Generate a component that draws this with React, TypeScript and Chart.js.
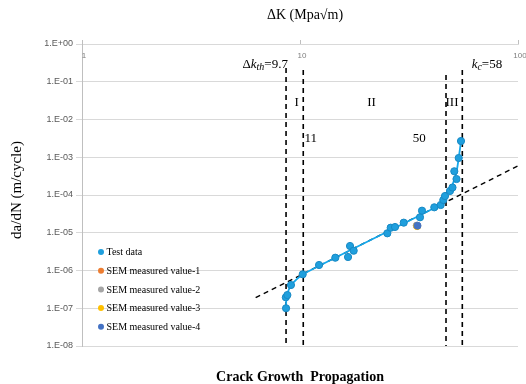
import React, { useEffect, useRef } from 'react';
import { Chart, registerables } from 'chart.js';
Chart.register(...registerables);

// Test data (ΔK in MPa√m, da/dN in m/cycle)
const testDK = [8.63, 8.61, 8.75, 9.09, 10.29, 12.23, 14.52, 16.61, 16.96, 17.63, 25.15, 26.06, 27.28, 29.91, 35.52, 36.28, 41.31, 44.2, 45.43, 46.26, 48.76, 50.06, 52.23, 51.03, 53.46, 54.77];
const testRate = [1.0e-7, 1.95e-7, 2.24e-7, 4.13e-7, 7.93e-7, 1.4e-6, 2.18e-6, 2.28e-6, 4.46e-6, 3.35e-6, 9.67e-6, 1.36e-5, 1.42e-5, 1.85e-5, 2.57e-5, 3.84e-5, 4.72e-5, 5.43e-5, 7.38e-5, 9.41e-5, 1.28e-4, 1.58e-4, 2.65e-4, 4.25e-4, 9.55e-4, 2.69e-3];

// Fitted curve through test data
const fitDK = [8.63, 8.67, 9.09, 10.29, 43.87, 46.75, 49.8, 52.23, 53.63, 54.77];
const fitRate = [1.0e-7, 2.1e-7, 4.1e-7, 7.9e-7, 5.43e-5, 8.85e-5, 1.73e-4, 4.07e-4, 1.08e-3, 2.69e-3];

// SEM measured values
const semLabels = ['SEM measured value-1', 'SEM measured value-2', 'SEM measured value-3', 'SEM measured value-4'];
const semDK = [34.4, 34.3, 34.5, 34.6];
const semRate = [1.52e-5, 1.55e-5, 1.5e-5, 1.54e-5];
const semColors = ['#ED7D31', '#A5A5A5', '#FFC000', '#4472C4'];

// Paris-law dashed line
const parisDK = [6.26, 100];
const parisRate = [1.9e-7, 5.9e-4];

// Region boundaries (vertical dashed lines)
const boundDK = [8.63, 10.35, 46.75, 55.53];
const boundTop = [0.231, 0.205, 0.151, 0.205];
const boundBottom = 1e-8;

// Axis ticks
const xTicks = [1, 10, 100];
const xTickLabels = ['1', '10', '100'];
const yTicks = [1e-8, 1e-7, 1e-6, 1e-5, 1e-4, 1e-3, 1e-2, 1e-1, 1];
const yTickLabels = ['1.E-08', '1.E-07', '1.E-06', '1.E-05', '1.E-04', '1.E-03', '1.E-02', '1.E-01', '1.E+00'];

// Text annotations (placed in data coordinates)
const regionLabels = ['I', 'II', 'III'];
const regionDK = [9.66, 21.3, 49.8];
const regionRate = 0.0279;
const valueLabels = ['11', '50'];
const valueDK = [11.2, 35.2];
const valueRate = 0.00304;

const testColor = '#1F9FDD';
const fitColor = '#14A8EC';

export default function App() {
  const ref = useRef<HTMLCanvasElement>(null);
  useEffect(() => {
    document.body.style.margin = '0';
    const canvas = ref.current!;
    const serif = '"Liberation Serif", "Times New Roman", serif';
    const sans = '"Liberation Sans", Arial, sans-serif';

    const datasets: any[] = [];
    datasets.push({
      label: 'Test data', data: testDK.map((x, i) => ({ x, y: testRate[i] })),
      backgroundColor: testColor, borderColor: '#1889C4', borderWidth: 1, pointRadius: 3.6, legendItem: true, order: 4,
    });
    semLabels.forEach((lab, i) => {
      datasets.push({
        label: lab, data: [{ x: semDK[i], y: semRate[i] }],
        backgroundColor: semColors[i], borderColor: semColors[i], borderWidth: 1, pointRadius: 3.5, legendItem: true, order: 3 - i,
      });
    });
    datasets.push({
      label: 'fit', data: fitDK.map((x, i) => ({ x, y: fitRate[i] })), showLine: true,
      borderColor: fitColor, borderWidth: 1.8, pointRadius: 0, tension: 0.15, legendItem: false, order: 5,
    });
    datasets.push({
      label: 'paris', data: parisDK.map((x, i) => ({ x, y: parisRate[i] })), showLine: true,
      borderColor: '#000', borderWidth: 1.4, borderDash: [5, 4], pointRadius: 0, legendItem: false, order: 6,
    });
    boundDK.forEach((x, i) => {
      datasets.push({
        label: 'bound' + i, data: [{ x, y: boundTop[i] }, { x, y: boundBottom }], showLine: true,
        borderColor: '#000', borderWidth: 1.6, borderDash: [5, 4], pointRadius: 0, legendItem: false, order: 7,
      });
    });

    const textPlugin = {
      id: 'texts',
      afterDraw(chart: any) {
        const c = chart.ctx;
        const xs = chart.scales.x, ys = chart.scales.y;
        c.save();
        // x tick labels below the top axis line
        c.fillStyle = '#7F7F7F';
        c.font = `8px ${sans}`;
        c.textAlign = 'center';
        c.textBaseline = 'middle';
        xTicks.forEach((v, i) => c.fillText(xTickLabels[i], xs.getPixelForValue(v) + 2, chart.chartArea.top + 12));
        // titles
        c.fillStyle = '#000';
        c.font = `14px ${serif}`;
        c.fillText('ΔK (Mpa√m)', 305, 15);
        c.font = `bold 14px ${serif}`;
        c.fillText('Crack Growth  Propagation', 300, 377);
        c.save();
        c.translate(17, 190);
        c.rotate(-Math.PI / 2);
        c.font = `15px ${serif}`;
        c.fillText('da/dN (m/cycle)', 0, 0);
        c.restore();
        // region labels
        c.font = `13px ${serif}`;
        c.fillStyle = '#000';
        regionLabels.forEach((t, i) => c.fillText(t, xs.getPixelForValue(regionDK[i]), ys.getPixelForValue(regionRate)));
        valueLabels.forEach((t, i) => c.fillText(t, xs.getPixelForValue(valueDK[i]), ys.getPixelForValue(valueRate)));
        // Δk_th = 9.7 (right aligned)
        const yA = ys.getPixelForValue(0.29);
        const parts1 = [
          { t: 'Δ', f: `13px ${serif}`, dy: 0 },
          { t: 'k', f: `italic 13px ${serif}`, dy: 0 },
          { t: 'th', f: `italic 10px ${serif}`, dy: 3 },
          { t: '=9.7', f: `13px ${serif}`, dy: 0 },
        ];
        c.textAlign = 'left';
        let w = 0;
        parts1.forEach(p => { c.font = p.f; w += c.measureText(p.t).width; });
        let px = xs.getPixelForValue(8.8) - w;
        parts1.forEach(p => { c.font = p.f; c.fillText(p.t, px, yA + p.dy); px += c.measureText(p.t).width; });
        // k_c = 58
        const parts2 = [
          { t: 'k', f: `italic 13px ${serif}`, dy: 0 },
          { t: 'c', f: `italic 10px ${serif}`, dy: 3 },
          { t: '=58', f: `13px ${serif}`, dy: 0 },
        ];
        px = xs.getPixelForValue(61.3);
        parts2.forEach(p => { c.font = p.f; c.fillText(p.t, px, yA + p.dy); px += c.measureText(p.t).width; });
        // legend
        const items = chart.data.datasets.filter((d: any) => d.legendItem);
        c.font = `10px ${serif}`;
        c.textBaseline = 'middle';
        items.forEach((d: any, i: number) => {
          const y = 252 + i * 18.7;
          c.beginPath();
          c.arc(101, y, 3, 0, Math.PI * 2);
          c.fillStyle = d.backgroundColor;
          c.fill();
          c.fillStyle = '#000';
          c.fillText(d.label, 106.5, y + 0.5);
        });
        c.restore();
      },
    };

    const chart = new Chart(canvas, {
      type: 'scatter',
      data: { datasets },
      options: {
        animation: false,
        responsive: false,
        devicePixelRatio: 1,
        layout: { padding: { top: 0, right: 8, bottom: 38, left: 0 } },
        plugins: { legend: { display: false }, tooltip: { enabled: false }, title: { display: false } },
        scales: {
          x: {
            type: 'logarithmic', position: 'top', min: 1, max: 100,
            afterBuildTicks: (s: any) => { s.ticks = xTicks.map(v => ({ value: v })); },
            afterFit: (s: any) => { s.height = 44; },
            ticks: { display: false },
            grid: { display: true, drawOnChartArea: false, drawTicks: true, tickLength: 4, color: '#BFBFBF' },
            border: { color: '#D9D9D9' },
          },
          y: {
            type: 'logarithmic', min: 1e-8, max: 1,
            afterBuildTicks: (s: any) => { s.ticks = yTicks.map(v => ({ value: v })); },
            afterFit: (s: any) => { s.width = 82; },
            ticks: {
              padding: 3, color: '#595959', font: { family: sans, size: 9 },
              callback: (v: any) => { const i = yTicks.findIndex(t => Math.abs(Math.log10(t) - Math.log10(v)) < 1e-6); return i >= 0 ? yTickLabels[i] : null; },
            },
            grid: { color: '#D9D9D9', tickLength: 6 },
            border: { color: '#BFBFBF' },
          },
        },
      },
      plugins: [textPlugin],
    } as any);
    return () => chart.destroy();
  }, []);
  return (
    <div style={{ width: 526, height: 384 }}>
      <canvas ref={ref} width={526} height={384} style={{ display: 'block' }} />
    </div>
  );
}
